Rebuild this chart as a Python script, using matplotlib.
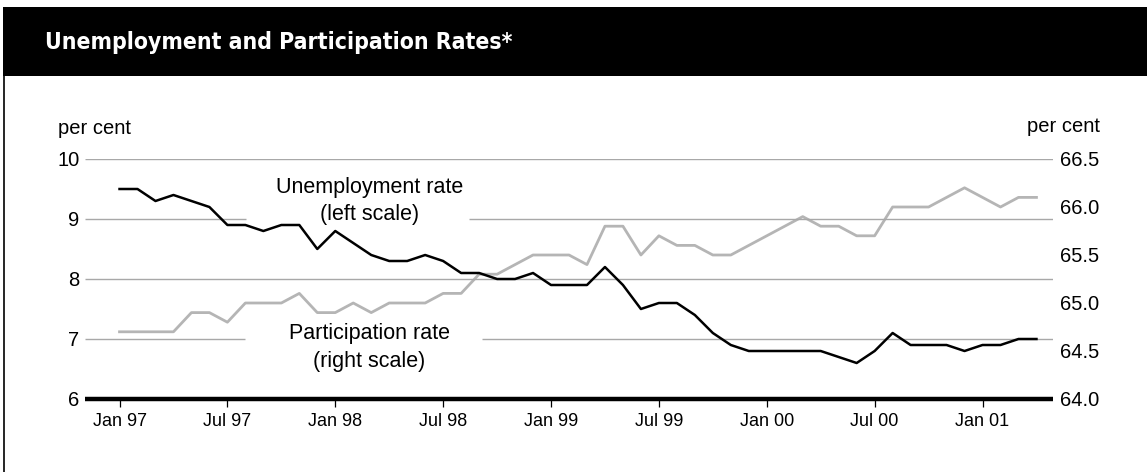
import numpy as np
import matplotlib
matplotlib.use("Agg")
import matplotlib.pyplot as plt
from matplotlib.patches import Rectangle
from matplotlib.lines import Line2D
from matplotlib import font_manager

plt.rcParams['font.family'] = ['Liberation Sans', 'DejaVu Sans']

# monthly data, Jan 97 .. Apr 01
unemployment = [9.5, 9.5, 9.3, 9.4, 9.3, 9.2, 8.9, 8.9, 8.8, 8.9, 8.9, 8.5,
                8.8, 8.6, 8.4, 8.3, 8.3, 8.4, 8.3, 8.1, 8.1, 8.0, 8.0, 8.1,
                7.9, 7.9, 7.9, 8.2, 7.9, 7.5, 7.6, 7.6, 7.4, 7.1, 6.9, 6.8,
                6.8, 6.8, 6.8, 6.8, 6.7, 6.6, 6.8, 7.1, 6.9, 6.9, 6.9, 6.8,
                6.9, 6.9, 7.0, 7.0]
participation = [64.7, 64.7, 64.7, 64.7, 64.9, 64.9, 64.8, 65.0, 65.0, 65.0, 65.1, 64.9,
                 64.9, 65.0, 64.9, 65.0, 65.0, 65.0, 65.1, 65.1, 65.3, 65.3, 65.4, 65.5,
                 65.5, 65.5, 65.4, 65.8, 65.8, 65.5, 65.7, 65.6, 65.6, 65.5, 65.5, 65.6,
                 65.7, 65.8, 65.9, 65.8, 65.8, 65.7, 65.7, 66.0, 66.0, 66.0, 66.1, 66.2,
                 66.1, 66.0, 66.1, 66.1]
tick_labels = ["Jan 97", "Jul 97", "Jan 98", "Jul 98", "Jan 99",
               "Jul 99", "Jan 00", "Jul 00", "Jan 01"]
left_ticks = [6, 7, 8, 9, 10]
right_ticks = [64.0, 64.5, 65.0, 65.5, 66.0, 66.5]

# a condensed bold face for the heading if one is installed
title_font = None
for f in font_manager.fontManager.ttflist:
    w = f.weight if isinstance(f.weight, int) else 400
    if 'condensed' in str(f.stretch) and (w >= 600 or 'Bold' in f.fname):
        title_font = font_manager.FontProperties(fname=f.fname)
        break
if title_font is None:
    title_font = font_manager.FontProperties(family='Liberation Sans', weight='bold')
    title_size = 15.5
else:
    title_size = 16.5

W, H = 1147, 472
fig = plt.figure(figsize=(W / 100, H / 100), dpi=100)

# header band and frame
fig.add_artist(Rectangle((3 / W, 1 - 76 / H), 1, 69 / H, transform=fig.transFigure,
                         facecolor='black', edgecolor='none'))
fig.add_artist(Line2D([4 / W, 4 / W], [0, 1 - 76 / H], transform=fig.transFigure,
                      color='black', lw=1.2))
title_font.set_size(title_size)
fig.text(45 / W, 1 - 43 / H, "Unemployment and Participation Rates*", color='white',
         fontproperties=title_font, va='center', ha='left')

ax = fig.add_axes([85 / W, 1 - 399 / H, 968 / W, 240 / H])
ax2 = ax.twinx()

x = np.arange(len(unemployment))
ax.set_xlim(-1.92, 51.92)
ax.set_ylim(6, 10)
ax2.set_ylim(64, 66.5)

# gridlines, broken where the labels sit
grey = '#a8a8a8'
ax.hlines([10, 8], -1.92, 51.92, color=grey, lw=1.0, zorder=1)
ax.hlines([9, 9], [-1.92, 19.44], [7.04, 51.92], color=grey, lw=1.0, zorder=1)
ax.hlines([7, 7], [-1.92, 20.16], [7.0, 51.92], color=grey, lw=1.0, zorder=1)

ax2.plot(x, participation, color='#b5b5b5', lw=2.0, zorder=3)
ax.plot(x, unemployment, color='black', lw=1.8, zorder=4)
ax.set_zorder(ax2.get_zorder() + 1)
ax.patch.set_visible(False)

for a in (ax, ax2):
    for s in ('top', 'left', 'right', 'bottom'):
        a.spines[s].set_visible(False)
ax.spines['bottom'].set_visible(True)
ax.spines['bottom'].set_linewidth(3.2)
ax.spines['bottom'].set_capstyle('butt')

ax.set_xticks(np.arange(0, 49, 6))
ax.set_xticklabels(tick_labels, fontsize=13)
ax.tick_params(axis='x', direction='out', length=6, width=0.9, pad=4)

ax.set_yticks(left_ticks)
ax.set_yticklabels([str(v) for v in left_ticks], fontsize=14.5)
ax.tick_params(axis='y', length=0, pad=4)
ax2.set_yticks(right_ticks)
ax2.set_yticklabels([f"{v:.1f}" for v in right_ticks], fontsize=14.5)
ax2.tick_params(axis='y', length=0, pad=5)
ax2.tick_params(axis='x', length=0)

fig.text(58 / W, 1 - 128 / H, "per cent", fontsize=14.5, va='center', ha='left')
fig.text(1100 / W, 1 - 127 / H, "per cent", fontsize=14.5, va='center', ha='right')

ax.text(13.9, 9.3, "Unemployment rate\n(left scale)", fontsize=15.5, ha='center',
        va='center', linespacing=1.4)
ax.text(13.9, 6.86, "Participation rate\n(right scale)", fontsize=15.5, ha='center',
        va='center', linespacing=1.4)

fig.savefig("out.png", dpi=100)
